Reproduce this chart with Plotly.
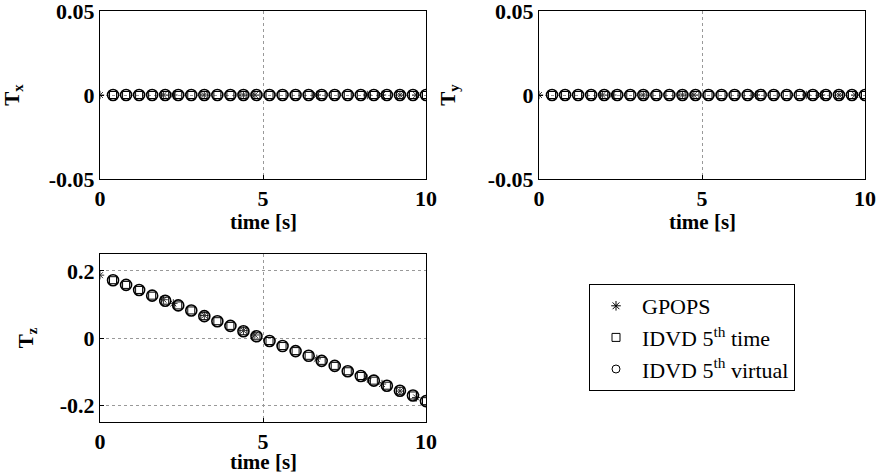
import plotly.graph_objects as go

# ---- data ----
t_idvd = [0.4, 0.8, 1.2, 1.6, 2.0, 2.4, 2.8, 3.2, 3.6, 4.0, 4.4, 4.8, 5.2,
          5.6, 6.0, 6.4, 6.8, 7.2, 7.6, 8.0, 8.4, 8.8, 9.2, 9.6, 10.0]
tx_idvd = [0.0] * 25
ty_idvd = [0.0] * 25
tz_idvd = [0.172, 0.158, 0.143, 0.126, 0.111, 0.097, 0.082, 0.065, 0.050,
           0.036, 0.020, 0.005, -0.009, -0.024, -0.039, -0.053, -0.068,
           -0.083, -0.099, -0.113, -0.127, -0.142, -0.157, -0.171, -0.188]

t_gpops = [0.0, 1.95, 2.25, 3.2, 4.4, 4.75, 6.65, 8.2, 8.65, 9.2, 9.7]
tx_gpops = [0.0] * 11
ty_gpops = [0.0] * 11
tz_gpops = [0.187, 0.114, 0.103, 0.067, 0.022, 0.009, -0.062, -0.121,
            -0.137, -0.158, -0.177]

x_ticks = [0, 5, 10]
x_ticktext = ["0", "5", "10"]
y_ticks_top = [-0.05, 0, 0.05]
y_ticktext_top = ["-0.05", "0", "0.05"]
y_ticks_bot = [-0.2, 0, 0.2]
y_ticktext_bot = ["-0.2", "0", "0.2"]

names = ["GPOPS", "IDVD 5<sup>th</sup> time", "IDVD 5<sup>th</sup> virtual"]
x_title = "time [s]"

FONT = "Liberation Serif"
fig = go.Figure()

panels = [
    ("x", "y", tx_gpops, tx_idvd, tx_idvd),
    ("x2", "y2", ty_gpops, ty_idvd, ty_idvd),
    ("x3", "y3", tz_gpops, tz_idvd, tz_idvd),
]
for i, (xa, ya, g, sq, ci) in enumerate(panels):
    fig.add_trace(go.Scatter(x=t_gpops, y=g, mode="markers", name=names[0],
                             xaxis=xa, yaxis=ya, showlegend=False,
                             marker=dict(symbol="asterisk-open", size=7, color="#333",
                                         line=dict(width=1, color="#333"))))
    fig.add_trace(go.Scatter(x=t_idvd, y=sq, mode="markers", name=names[1],
                             xaxis=xa, yaxis=ya, showlegend=False,
                             marker=dict(symbol="square-open", size=7, color="black",
                                         line=dict(width=1, color="black"))))
    fig.add_trace(go.Scatter(x=t_idvd, y=ci, mode="markers", name=names[2],
                             xaxis=xa, yaxis=ya, showlegend=False,
                             marker=dict(symbol="circle-open", size=11, color="black",
                                         line=dict(width=1.6, color="black"))))

# legend entries (small symbols as in the reference legend)
leg_symbols = ["asterisk-open", "square-open", "circle-open"]
for nm, sym in zip(names, leg_symbols):
    fig.add_trace(go.Scatter(x=[None], y=[None], mode="markers", name=nm,
                             xaxis="x", yaxis="y", showlegend=True,
                             marker=dict(symbol=sym, size=8, color="black",
                                         line=dict(width=1, color="black"))))

W, H = 881, 476
def dx(a, b):
    return [a / W, b / W]
def dy(top, bot):
    return [1 - bot / H, 1 - top / H]

tickf = dict(family=FONT, size=22, color="black", weight="bold")
titlef = dict(family=FONT, size=21, color="black", weight="bold")
axis_common = dict(showline=True, linecolor="black", linewidth=1, mirror=True,
                   ticks="inside", ticklen=4, tickcolor="black",
                   showgrid=True, gridcolor="#999999", griddash="dot", gridwidth=1,
                   zeroline=False, tickfont=tickf, automargin=False,
                   ticklabeloverflow="allow")

# x-axis titles as annotations centred under each panel
for (x0, x1, yc) in [(100, 426, 222), (539, 865, 222), (100, 426, 462)]:
    fig.add_annotation(text=x_title, xref="paper", yref="paper",
                       x=(x0 + x1) / 2 / W, y=1 - yc / H, xanchor="center", yanchor="middle",
                       showarrow=False, font=titlef)

fig.update_layout(
    width=W, height=H, margin=dict(l=0, r=0, t=0, b=0, autoexpand=False),
    paper_bgcolor="white", plot_bgcolor="white",
    showlegend=True,
    legend=dict(x=589 / W, y=1 - 284 / H, xanchor="left", yanchor="top",
                bordercolor="black", borderwidth=1, bgcolor="white",
                font=dict(family=FONT, size=22, color="black"),
                traceorder="normal", itemwidth=42),
    xaxis=dict(domain=dx(100, 426), range=[0, 10], tickvals=x_ticks, ticktext=x_ticktext,
               anchor="y", **axis_common),
    yaxis=dict(domain=dy(11, 179), range=[-0.05, 0.05], tickvals=y_ticks_top,
               ticktext=y_ticktext_top, anchor="x",
               title=dict(text="T<sub>x</sub>", font=titlef, standoff=26),
               **axis_common),
    xaxis2=dict(domain=dx(539, 865), range=[0, 10], tickvals=x_ticks, ticktext=x_ticktext,
                anchor="y2", **axis_common),
    yaxis2=dict(domain=dy(11, 179), range=[-0.05, 0.05], tickvals=y_ticks_top,
                ticktext=y_ticktext_top, anchor="x2",
                title=dict(text="T<sub>y</sub>", font=titlef, standoff=26),
                **axis_common),
    xaxis3=dict(domain=dx(100, 426), range=[0, 10], tickvals=x_ticks, ticktext=x_ticktext,
                anchor="y3", **axis_common),
    yaxis3=dict(domain=dy(254, 422), range=[-0.25, 0.25], tickvals=y_ticks_bot,
                ticktext=y_ticktext_bot, anchor="x3",
                title=dict(text="T<sub>z</sub>", font=titlef, standoff=20),
                **axis_common),
)

fig.write_html("out.html")
